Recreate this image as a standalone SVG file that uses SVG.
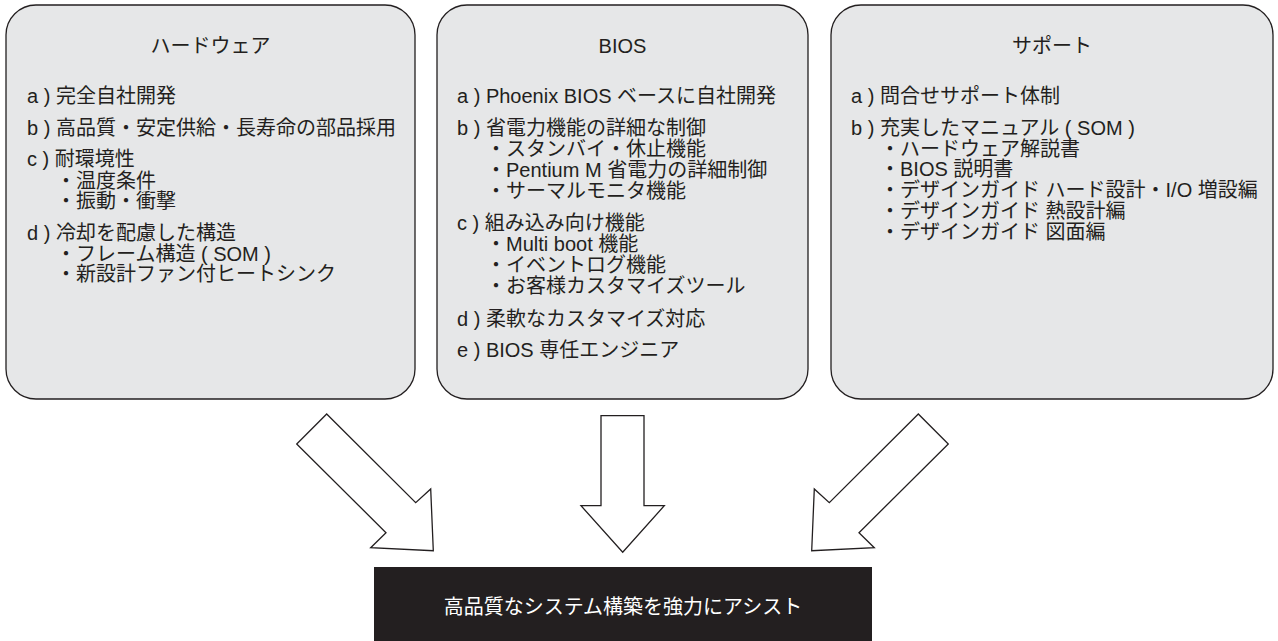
<svg xmlns="http://www.w3.org/2000/svg" width="1278" height="641" viewBox="0 0 1278 641">
<style>
.box{fill:#e6e7e8;stroke:#231f20;stroke-width:1.3}
.t{font-family:"Liberation Sans","Noto Sans CJK JP",sans-serif;font-size:20px;fill:#231f20}
.c{text-anchor:middle}
.arrow{fill:#ffffff;stroke:#231f20;stroke-width:1.3;stroke-linejoin:miter}
.result{fill:#231f20}
.w{fill:#ffffff}
</style>
<rect width="1278" height="641" fill="#ffffff"/>
<g id="hardware">
<rect class="box" x="6" y="5" width="409" height="394" rx="30" ry="30"/>
<text class="t c" x="210.5" y="53">ハードウェア</text>
<text class="t" x="27" y="103">a ) 完全自社開発</text>
<text class="t" x="27" y="135">b ) 高品質・安定供給・長寿命の部品採用</text>
<text class="t" x="27" y="166">c ) 耐環境性</text>
<text class="t" x="56" y="188">・温度条件</text>
<text class="t" x="56" y="208">・振動・衝撃</text>
<text class="t" x="27" y="240">d ) 冷却を配慮した構造</text>
<text class="t" x="56" y="261">・フレーム構造 ( SOM )</text>
<text class="t" x="56" y="281">・新設計ファン付ヒートシンク</text>
</g>
<g id="bios">
<rect class="box" x="437" y="5" width="371" height="394" rx="30" ry="30"/>
<text class="t c" x="622.5" y="53">BIOS</text>
<text class="t" x="457" y="103">a ) Phoenix BIOS ベースに自社開発</text>
<text class="t" x="457" y="135">b ) 省電力機能の詳細な制御</text>
<text class="t" x="486" y="156">・スタンバイ・休止機能</text>
<text class="t" x="486" y="177">・Pentium M 省電力の詳細制御</text>
<text class="t" x="486" y="198">・サーマルモニタ機能</text>
<text class="t" x="457" y="230">c ) 組み込み向け機能</text>
<text class="t" x="486" y="251">・Multi boot 機能</text>
<text class="t" x="486" y="272">・イベントログ機能</text>
<text class="t" x="486" y="293">・お客様カスタマイズツール</text>
<text class="t" x="457" y="326">d ) 柔軟なカスタマイズ対応</text>
<text class="t" x="457" y="357">e ) BIOS 専任エンジニア</text>
</g>
<g id="support">
<rect class="box" x="831" y="5" width="442" height="394" rx="30" ry="30"/>
<text class="t c" x="1052" y="53">サポート</text>
<text class="t" x="851" y="103">a ) 問合せサポート体制</text>
<text class="t" x="851" y="135">b ) 充実したマニュアル ( SOM )</text>
<text class="t" x="880" y="156">・ハードウェア解説書</text>
<text class="t" x="880" y="176">・BIOS 説明書</text>
<text class="t" x="880" y="197">・デザインガイド ハード設計・I/O 増設編</text>
<text class="t" x="880" y="218">・デザインガイド 熱設計編</text>
<text class="t" x="880" y="239">・デザインガイド 図面編</text>
</g>
<g id="connectors">
<polygon class="arrow" points="326.7,414 415.7,502.7 430.7,489 433.3,550.7 370.7,547.7 386,532.7 296.7,444"/>
<polygon class="arrow" points="601,415.7 644,415.7 644,505.7 664.3,505.7 622.7,552.3 581,505.7 601,505.7"/>
<polygon class="arrow" points="918.3,414 829.3,502.7 814.3,489 811.7,550.7 874.3,547.7 859,532.7 948.3,444"/>
</g>
<g id="result">
<rect class="result" x="374" y="567" width="498" height="74"/>
<text class="t c w" x="623" y="614">高品質なシステム構築を強力にアシスト</text>
</g>
</svg>
